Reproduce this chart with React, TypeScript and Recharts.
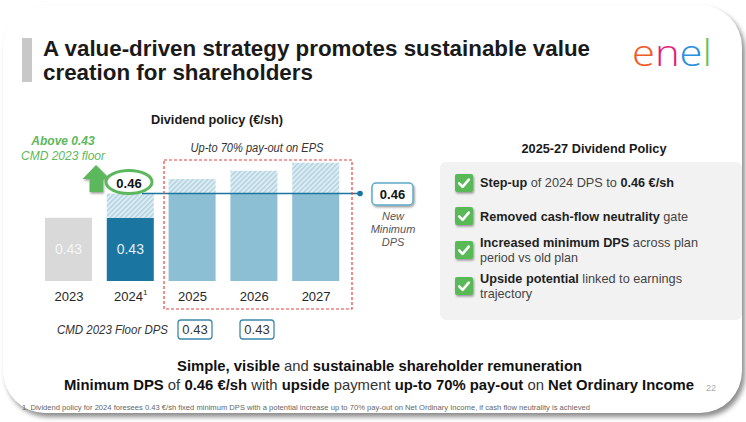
import { Bar, BarChart, Cell, LabelList, ReferenceLine, XAxis, YAxis } from "recharts";

const years = ["2023", "2024", "2025", "2026", "2027"];
const yearMarks = ["", "1", "", "", ""];
const minimumDps = [0.43, 0.43, 0.46, 0.46, 0.46];
const potentialDps = [0.43, 0.46, 0.478, 0.488, 0.498];
const barLabels = ["0.43", "0.43", "", "", ""];
const barColors = ["#d9d9d9", "#1a76a0", "#8cbfd3", "#8cbfd3", "#8cbfd3"];
const labelColors = ["#f6f6f6", "#e3eef4", "", "", ""];
const newMinimumDps = 0.46;
const cmdFloorDps = ["0.43", "0.43"];

const data = years.map((year, i) => ({
	year,
	base: minimumDps[i],
	upside: Math.round((potentialDps[i] - minimumDps[i]) * 1000) / 1000,
}));

const FONT = "'Liberation Sans', Arial, sans-serif";

function YearTick(props: any) {
	const { x, y, index } = props;
	return (
		<text x={x} y={y + 12} textAnchor="middle" fontSize={13} fill="#262626" fontFamily={FONT}>
			{years[index]}
			{yearMarks[index] && (
				<tspan fontSize={8} dy={-6}>
					{yearMarks[index]}
				</tspan>
			)}
		</text>
	);
}

function BarText(props: any) {
	const vb = props.viewBox ?? props;
	const i = props.index;
	const text = barLabels[i];
	if (!text) return null;
	return (
		<text
			x={vb.x + vb.width / 2}
			y={vb.y + vb.height / 2 + 5}
			textAnchor="middle"
			fontSize={14}
			fill={labelColors[i]}
			fontFamily={FONT}
		>
			{text}
		</text>
	);
}

function MinLine(props: any) {
	const { x1, x2, y1 } = props;
	return (
		<g>
			<line x1={x1 + 104} x2={x2 + 13} y1={y1} y2={y1} stroke="#1a76a0" strokeWidth={1.5} />
			<circle cx={x2 + 13} cy={y1} r={2.8} fill="#1a76a0" />
		</g>
	);
}

function Check({ y }: { y: number }) {
	return (
		<g transform={`translate(455 ${y})`} filter="url(#shadow)">
			<rect width={18} height={18} rx={2} fill="#58b957" />
			<path d="M4.2 9.4 L7.6 12.8 L13.8 5.6" stroke="#fff" strokeWidth={2.6} fill="none" strokeLinecap="round" strokeLinejoin="round" />
		</g>
	);
}

export default function App() {
	return (
		<div style={{ position: "absolute", left: 0, top: 0, width: 746, height: 422, background: "#fff", overflow: "hidden", fontFamily: FONT }}>
			<div
				style={{
					position: "absolute",
					left: 3,
					top: 5,
					width: 739,
					height: 408,
					borderRadius: 42,
					background: "#fff",
					boxShadow: "3px 4px 5px rgba(0,0,0,0.45)",
				}}
			/>
			<svg width={746} height={422} style={{ position: "absolute", left: 0, top: 0 }}>
				<defs>
					<pattern id="hatch" width="3.5" height="3.5" patternUnits="userSpaceOnUse" patternTransform="rotate(45)">
						<rect width="3.5" height="3.5" fill="#deedf3" />
						<line x1="0.8" y1="0" x2="0.8" y2="3.5" stroke="#aed0df" strokeWidth="1.4" />
					</pattern>
					<filter id="shadow" x="-30%" y="-30%" width="170%" height="170%">
						<feDropShadow dx="1" dy="1.5" stdDeviation="1" floodOpacity="0.4" />
					</filter>
				</defs>
				<rect x={440} y={162} width={302} height={158} rx={6} fill="#f2f2f2" />
			</svg>
			<div style={{ position: "absolute", left: 0, top: 0 }}>
				<BarChart width={746} height={422} data={data} margin={{ top: 120.6, right: 399, bottom: 111, left: 38 }}>
					<XAxis dataKey="year" axisLine={false} tickLine={false} height={30} interval={0} tick={<YearTick />} />
					<YAxis hide type="number" domain={[0.352, 0.55]} allowDataOverflow />
					<Bar dataKey="base" stackId="dps" barSize={47} isAnimationActive={false}>
						{data.map((d, i) => (
							<Cell key={d.year} fill={barColors[i]} />
						))}
						<LabelList dataKey="base" content={<BarText />} />
					</Bar>
					<Bar dataKey="upside" stackId="dps" barSize={47} fill="url(#hatch)" isAnimationActive={false} />
					<ReferenceLine y={newMinimumDps} ifOverflow="visible" shape={<MinLine />} />
				</BarChart>
			</div>
			<svg width={746} height={422} style={{ position: "absolute", left: 0, top: 0, pointerEvents: "none" }} fontFamily={FONT}>
				{/* title */}
				<rect x={22} y={38} width={10} height={44} fill="#c8c8c8" />
				<text x={43} y={56} fontSize={22} fontWeight={700} fill="#1a1a1a" textLength={547} lengthAdjust="spacingAndGlyphs">
					A value-driven strategy promotes sustainable value
				</text>
				<text x={43} y={80} fontSize={22} fontWeight={700} fill="#1a1a1a" textLength={270} lengthAdjust="spacingAndGlyphs">
					creation for shareholders
				</text>
				{/* logo */}
				<text x={632} y={66} fontSize={36} fontFamily="'Open Sans', sans-serif" fontWeight={300} textLength={80} lengthAdjust="spacingAndGlyphs">
					<tspan fill="#f05a24">e</tspan>
					<tspan fill="#e5197a">n</tspan>
					<tspan fill="#2a8fe0">e</tspan>
					<tspan fill="#6cbf5a">l</tspan>
				</text>

				{/* left chart annotations */}
				<text x={217} y={124} fontSize={13} fontWeight={700} fill="#1a1a1a" textAnchor="middle" textLength={132} lengthAdjust="spacingAndGlyphs">
					Dividend policy (€/sh)
				</text>
				<text x={63} y={145} fontSize={12} fontWeight={700} fontStyle="italic" fill="#5cb85c" textAnchor="middle">
					Above 0.43
				</text>
				<text x={63} y={160} fontSize={12} fontStyle="italic" fill="#5cb85c" textAnchor="middle">
					CMD 2023 floor
				</text>
				<path d="M96 165 L110 179 L103 179 L103 192 L89.5 192 L89.5 179 L82.5 179 Z" fill="#5cb85c" filter="url(#shadow)" />
				<ellipse cx={129} cy={182} rx={23} ry={11.5} fill="#fff" stroke="#5cb85c" strokeWidth={3} />
				<text x={129} y={188} fontSize={13} fontWeight={700} fill="#111" textAnchor="middle">
					0.46
				</text>
				<text x={257} y={152} fontSize={12} fontStyle="italic" fill="#333" textAnchor="middle" textLength={133} lengthAdjust="spacingAndGlyphs">
					Up-to 70% pay-out on EPS
				</text>
				<rect x={164} y={160} width={188} height={149} fill="none" stroke="#e8413c" strokeWidth={1.2} strokeDasharray="3 2" />

				<rect x={372} y={183} width={41} height={22} rx={4} fill="#fff" stroke="#5ea9c8" strokeWidth={1.5} filter="url(#shadow)" />
				<text x={392.5} y={199} fontSize={13} fontWeight={700} fill="#111" textAnchor="middle">
					0.46
				</text>
				<text fontSize={11} fontStyle="italic" fill="#555" textAnchor="middle">
					<tspan x={393} y={220}>New</tspan>
					<tspan x={393} y={233}>Minimum</tspan>
					<tspan x={393} y={246}>DPS</tspan>
				</text>

				<text x={57} y={334} fontSize={12} fontStyle="italic" fill="#333" textLength={111} lengthAdjust="spacingAndGlyphs">
					CMD 2023 Floor DPS
				</text>
				{cmdFloorDps.map((v, i) => (
					<g key={i}>
						<rect x={178 + i * 62} y={320} width={34} height={19} rx={3} fill="#fff" stroke="#3d88aa" strokeWidth={1.3} />
						<text x={195 + i * 62} y={334} fontSize={13} fill="#333" textAnchor="middle">
							{v}
						</text>
					</g>
				))}

				{/* right panel */}
				<text x={594} y={153} fontSize={12} fontWeight={700} fill="#1a1a1a" textAnchor="middle" textLength={145} lengthAdjust="spacingAndGlyphs">
					2025-27 Dividend Policy
				</text>
				<Check y={174} />
				<Check y={207} />
				<Check y={241} />
				<Check y={277} />
				<text x={480} y={187} fontSize={12.7} fill="#444" textLength={194} lengthAdjust="spacingAndGlyphs">
					<tspan fontWeight={700} fill="#1f1f1f">Step-up</tspan> of 2024 DPS to <tspan fontWeight={700} fill="#1f1f1f">0.46 €/sh</tspan>
				</text>
				<text x={480} y={221} fontSize={12.7} fill="#444" textLength={208} lengthAdjust="spacingAndGlyphs">
					<tspan fontWeight={700} fill="#1f1f1f">Removed cash-flow neutrality</tspan> gate
				</text>
				<text x={480} y={247} fontSize={12.7} fill="#444" textLength={218} lengthAdjust="spacingAndGlyphs">
					<tspan fontWeight={700} fill="#1f1f1f">Increased minimum DPS</tspan> across plan
				</text>
				<text x={480} y={262} fontSize={12.7} fill="#444" textLength={98} lengthAdjust="spacingAndGlyphs">
					period vs old plan
				</text>
				<text x={480} y={283} fontSize={12.7} fill="#444" textLength={202} lengthAdjust="spacingAndGlyphs">
					<tspan fontWeight={700} fill="#1f1f1f">Upside potential</tspan> linked to earnings
				</text>
				<text x={480} y={298} fontSize={12.7} fill="#444" textLength={52} lengthAdjust="spacingAndGlyphs">
					trajectory
				</text>

				{/* bottom message */}
				<text x={177} y={371} fontSize={15} fill="#333" textLength={405} lengthAdjust="spacingAndGlyphs">
					<tspan fontWeight={700} fill="#111">Simple, visible</tspan> and <tspan fontWeight={700} fill="#111">sustainable shareholder remuneration</tspan>
				</text>
				<text x={64} y={390} fontSize={15} fill="#333" textLength={630} lengthAdjust="spacingAndGlyphs">
					<tspan fontWeight={700} fill="#111">Minimum DPS</tspan> of <tspan fontWeight={700} fill="#111">0.46 €/sh</tspan> with{" "}
					<tspan fontWeight={700} fill="#111">upside</tspan> payment <tspan fontWeight={700} fill="#111">up-to 70% pay-out</tspan> on{" "}
					<tspan fontWeight={700} fill="#111">Net Ordinary Income</tspan>
				</text>
				<text x={706} y={391} fontSize={9} fill="#aaa">
					22
				</text>
				<text x={22} y={410} fontSize={7} fill="#666" textLength={568} lengthAdjust="spacingAndGlyphs">
					1. Dividend policy for 2024 foresees 0.43 €/sh fixed minimum DPS with a potential increase up to 70% pay-out on Net Ordinary Income, if cash flow neutrality is achieved
				</text>
			</svg>
		</div>
	);
}
